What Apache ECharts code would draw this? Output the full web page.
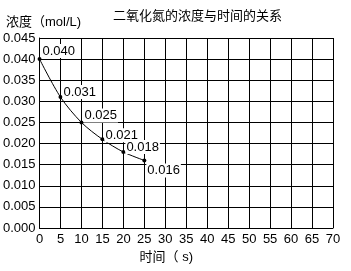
<!DOCTYPE html>
<html>
<head>
<meta charset="utf-8">
<script src="https://cdn.jsdelivr.net/npm/echarts@6/dist/echarts.min.js"></script>
<style>
html,body{margin:0;padding:0;background:#fff;}
#chart{width:351px;height:271px;}
</style>
</head>
<body>
<div id="chart"></div>
<script>
var titleText = '二氧化氮的浓度与时间的关系';
var xName = '时间（ s)';
var yName = '浓度（mol/L)';
var times = [0, 5, 10, 15, 20, 25];
var concentrations = [0.040, 0.031, 0.025, 0.021, 0.018, 0.016];
var labelOffsetsY = [-8, -5, -7, -4, -5, 10];

var FONT = '"Liberation Sans", "Noto Sans CJK SC", sans-serif';
var chart = echarts.init(document.getElementById('chart'), null, {renderer: 'canvas'});

var seriesData = times.map(function (t, i) {
  return {
    value: [t, concentrations[i]],
    label: {offset: [0, labelOffsetsY[i]]}
  };
});

chart.setOption({
  backgroundColor: '#fff',
  animation: false,
  title: {
    text: titleText,
    left: 108,
    top: 4,
    textStyle: {fontSize: 13, fontWeight: 'normal', color: '#000', fontFamily: '"Noto Sans CJK SC", sans-serif'}
  },
  grid: {left: 39, right: 18, top: 38, bottom: 43, containLabel: false},
  xAxis: {
    type: 'value',
    min: 0, max: 70, interval: 5,
    name: xName,
    nameLocation: 'middle',
    nameGap: 20,
    nameTextStyle: {fontSize: 13, color: '#000', fontFamily: FONT, padding: [0, 40, 0, 0]},
    axisLine: {show: true, lineStyle: {color: '#000', width: 1}},
    axisTick: {show: false},
    axisLabel: {color: '#000', fontSize: 13, margin: 5, fontFamily: FONT},
    splitLine: {show: true, lineStyle: {color: '#000', width: 1}}
  },
  yAxis: {
    type: 'value',
    min: 0, max: 0.045, interval: 0.005,
    name: yName,
    nameLocation: 'end',
    nameGap: 9,
    nameTextStyle: {fontSize: 13, color: '#000', fontFamily: FONT, align: 'center', padding: [0, 0, 0, 8]},
    axisLine: {show: true, lineStyle: {color: '#000', width: 1}},
    axisTick: {show: false},
    axisLabel: {color: '#000', fontSize: 13, margin: 4, fontFamily: FONT,
      formatter: function (v) { return v.toFixed(3); }},
    splitLine: {show: true, lineStyle: {color: '#000', width: 1}}
  },
  series: [{
    type: 'line',
    data: seriesData,
    smooth: 0.3,
    symbol: 'circle',
    symbolSize: 4,
    itemStyle: {color: '#000'},
    lineStyle: {color: '#000', width: 1},
    label: {
      show: true,
      position: 'right',
      distance: 0,
      color: '#000',
      fontSize: 13,
      fontFamily: FONT,
      backgroundColor: '#fff',
      padding: [1, 1, 0, 1],
      formatter: function (p) { return p.value[1].toFixed(3); }
    }
  }]
});
</script>
</body>
</html>
